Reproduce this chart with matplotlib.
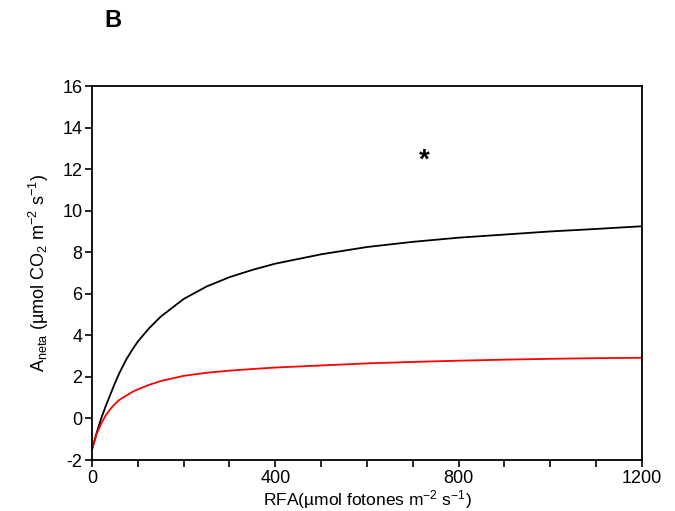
import numpy as np
import matplotlib.pyplot as plt
from matplotlib.ticker import MultipleLocator

plt.rcParams['font.family'] = ['Liberation Sans', 'DejaVu Sans']
plt.rcParams['mathtext.fontset'] = 'custom'
plt.rcParams['mathtext.rm'] = 'Liberation Sans'
plt.rcParams['mathtext.it'] = 'Liberation Sans:italic'
plt.rcParams['mathtext.bf'] = 'Liberation Sans:bold'
plt.rcParams['axes.unicode_minus'] = False

# Light response curves
par = [0, 10, 20, 30, 40, 50, 60, 75, 90, 100, 125, 150, 200, 250, 300,
       350, 400, 500, 600, 700, 800, 900, 1000, 1100, 1200]
a_black = [-1.5, -0.7, 0.0, 0.6, 1.15, 1.7, 2.2, 2.85, 3.38, 3.7, 4.35, 4.9,
           5.75, 6.35, 6.8, 7.15, 7.45, 7.9, 8.25, 8.5, 8.7, 8.85, 9.0, 9.12, 9.25]
a_red = [-1.5, -0.75, -0.25, 0.15, 0.45, 0.7, 0.9, 1.1, 1.3, 1.4, 1.62, 1.8,
         2.05, 2.2, 2.3, 2.38, 2.45, 2.55, 2.65, 2.72, 2.78, 2.83, 2.87, 2.9, 2.92]

fig = plt.figure(figsize=(6.75, 5.11), dpi=100)
ax = fig.add_axes([0.1363, 0.0998, 0.8147, 0.7319])

ax.plot(par, a_black, color='black', lw=1.3)
ax.plot(par, a_red, color='red', lw=1.3)

ax.set_xlim(0, 1200)
ax.set_ylim(-2, 16)
ax.xaxis.set_major_locator(MultipleLocator(400))
ax.xaxis.set_minor_locator(MultipleLocator(100))
ax.yaxis.set_major_locator(MultipleLocator(2))
ax.tick_params(which='both', direction='out', length=5, width=1.2, labelsize=13, pad=2)
for s in ax.spines.values():
    s.set_linewidth(1.3)

ax.set_xlabel('RFA(µmol fotones m$^{-2}$ s$^{-1}$)', fontsize=12.5, labelpad=1)
ax.set_ylabel('A$_{\\mathrm{neta}}$ (µmol CO$_2$ m$^{-2}$ s$^{-1}$)', fontsize=13, labelpad=8)

ax.text(725, 12.4, '*', fontsize=20, fontweight='bold', ha='center', va='center')
fig.text(0.155, 0.96, 'B', fontsize=17, fontweight='bold', ha='left', va='center')

fig.savefig('out.png', dpi=100)
